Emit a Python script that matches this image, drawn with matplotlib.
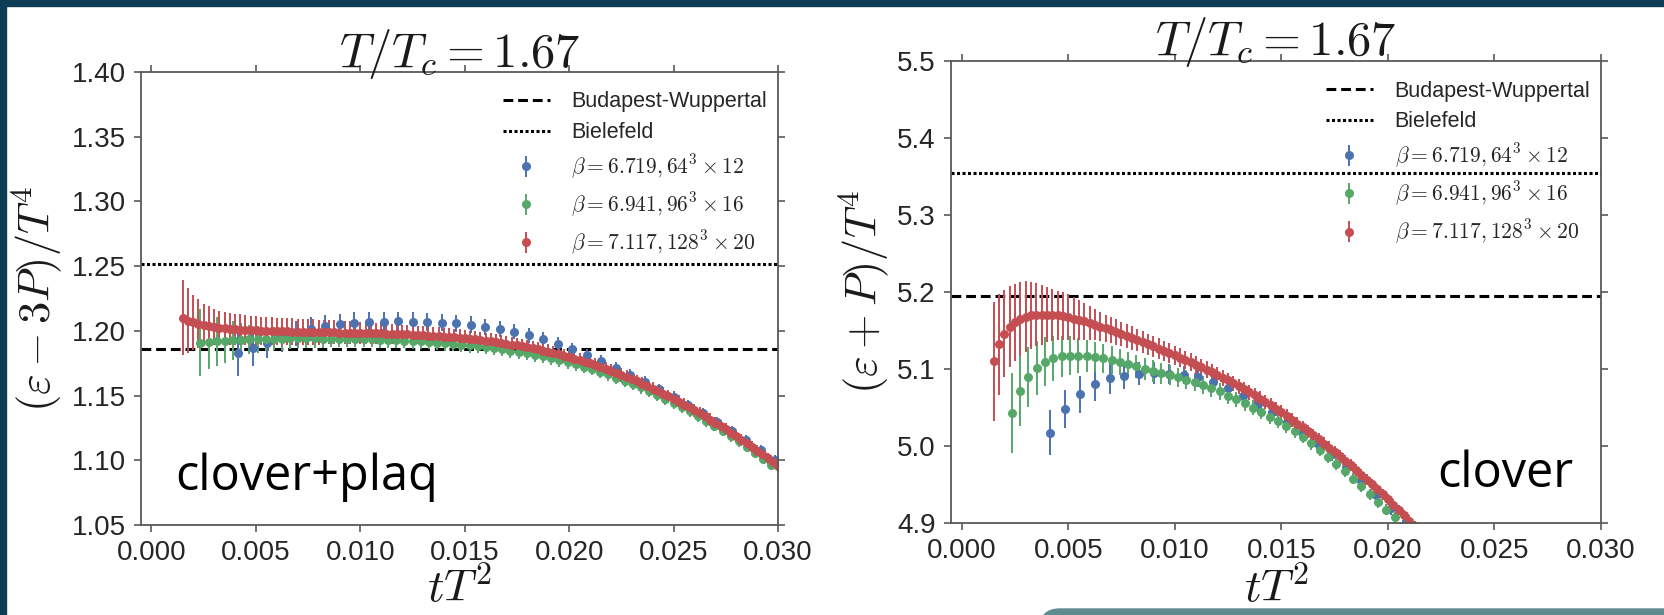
import numpy as np
import matplotlib
matplotlib.use("Agg")
import matplotlib.pyplot as plt
from matplotlib.patches import Rectangle, FancyBboxPatch

# flow time grid: tT^2 = (t/a^2) / Nt^2, t/a^2 = 0.6, 0.7, ...
FLOW_T0 = 0.6
FLOW_DT = 0.1

NT_BLUE, NT_GREEN, NT_RED = 12, 16, 20

LABELS = [
    r"$\beta=6.719, 64^3\times 12$",
    r"$\beta=6.941, 96^3\times 16$",
    r"$\beta=7.117, 128^3\times 20$",
]
COLORS = ["#4C72B0", "#55A868", "#C44E52"]

# ---- left panel: (eps - 3P)/T^4, clover+plaq ----
BW_LEFT = 1.186
BIELEFELD_LEFT = 1.252

blue_l = [1.183, 1.187, 1.191, 1.195, 1.198, 1.2015, 1.2035, 1.205, 1.2062, 1.2068,
          1.2072, 1.2073, 1.2072, 1.2069, 1.2064, 1.2057, 1.2047, 1.2033, 1.2015, 1.1993,
          1.1966, 1.1934, 1.1897, 1.1856, 1.1812, 1.1765, 1.1715, 1.1662, 1.1607, 1.1549,
          1.1489, 1.1427, 1.1362, 1.1295, 1.1225, 1.1153, 1.1078, 1.1000]
blue_l_err = [0.018, 0.014, 0.012, 0.011, 0.010, 0.009, 0.0085, 0.008, 0.008, 0.0078,
              0.0076, 0.0074, 0.0072, 0.007, 0.0068, 0.0066, 0.0064, 0.0062, 0.006, 0.0058,
              0.0056, 0.0054, 0.0052, 0.005, 0.005, 0.0048, 0.0047, 0.0046, 0.0045, 0.0044,
              0.0043, 0.0042, 0.0042, 0.0041, 0.0041, 0.004, 0.004, 0.004]

green_l = [1.1910, 1.1915, 1.1920, 1.1924, 1.1928, 1.1931, 1.1934, 1.1936, 1.1938, 1.1939,
           1.1940, 1.1941, 1.1941, 1.1941, 1.1941, 1.1940, 1.1940, 1.1939, 1.1938, 1.1937,
           1.1936, 1.1934, 1.1932, 1.1930, 1.1928, 1.1925, 1.1922, 1.1918, 1.1914, 1.1910,
           1.1905, 1.1899, 1.1893, 1.1887, 1.1881, 1.1873, 1.1865, 1.1856, 1.1847, 1.1837,
           1.1826, 1.1814, 1.1802, 1.1788, 1.1774, 1.1758, 1.1742, 1.1724, 1.1705, 1.1684,
           1.1663, 1.1639, 1.1615, 1.1589, 1.1563, 1.1535, 1.1507, 1.1476, 1.1445, 1.1413,
           1.1380, 1.1343, 1.1305, 1.1267, 1.1228, 1.1187, 1.1146, 1.1103, 1.1060, 1.1013,
           1.0966]
green_l_err = [0.026, 0.021, 0.019, 0.017, 0.015, 0.013, 0.0115, 0.0105, 0.0095, 0.009,
               0.0085, 0.008, 0.0077, 0.0074, 0.0072, 0.007, 0.0068, 0.0066, 0.0065, 0.0064,
               0.0063, 0.0062, 0.0061, 0.006, 0.006, 0.0059, 0.0059, 0.0058, 0.0058, 0.0057,
               0.0057, 0.0056, 0.0056, 0.0055, 0.0055, 0.0054, 0.0054, 0.0053, 0.0053, 0.0052,
               0.0052, 0.0051, 0.0051, 0.005, 0.005, 0.005, 0.0049, 0.0049, 0.0049, 0.0048,
               0.0048, 0.0048, 0.0047, 0.0047, 0.0047, 0.0046, 0.0046, 0.0046, 0.0045, 0.0045,
               0.0045, 0.0044, 0.0044, 0.0044, 0.0043, 0.0043, 0.0043, 0.0042, 0.0042, 0.0042,
               0.0041]

red_l = [1.2100, 1.2080, 1.2065, 1.2055, 1.2045, 1.2037, 1.2030, 1.2025, 1.2020, 1.2016,
         1.2013, 1.2010, 1.2007, 1.2005, 1.2003, 1.2001, 1.2000, 1.1999, 1.1998, 1.1997,
         1.1996, 1.1995, 1.1994, 1.1993, 1.1992, 1.1991, 1.1990, 1.1990, 1.1989, 1.1988,
         1.1987, 1.1987, 1.1986, 1.1985, 1.1984, 1.1983, 1.1982, 1.1981, 1.1980, 1.1978,
         1.1977, 1.1975, 1.1974, 1.1972, 1.1970, 1.1968, 1.1966, 1.1964, 1.1962, 1.1959,
         1.1956, 1.1953, 1.1950, 1.1946, 1.1942, 1.1938, 1.1934, 1.1929, 1.1924, 1.1919,
         1.1913, 1.1907, 1.1901, 1.1894, 1.1887, 1.1880, 1.1872, 1.1864, 1.1856, 1.1847,
         1.1838, 1.1828, 1.1818, 1.1808, 1.1797, 1.1785, 1.1773, 1.1761, 1.1748, 1.1734,
         1.1720, 1.1706, 1.1691, 1.1675, 1.1659, 1.1643, 1.1626, 1.1609, 1.1591, 1.1573,
         1.1554, 1.1535, 1.1515, 1.1495, 1.1474, 1.1453, 1.1431, 1.1409, 1.1386, 1.1363,
         1.1339, 1.1315, 1.1290, 1.1265, 1.1239, 1.1213, 1.1186, 1.1159, 1.1131, 1.1103,
         1.1074, 1.1045, 1.1015, 1.0985, 1.0954]
red_l_err = [0.029, 0.025, 0.0215, 0.019, 0.0165, 0.0155, 0.014, 0.0132, 0.0127, 0.0122,
             0.0119, 0.0117, 0.0115, 0.0113, 0.0111, 0.0109, 0.0107, 0.0105, 0.0104, 0.0103,
             0.0102, 0.0101, 0.0100, 0.0099, 0.0098, 0.0097, 0.0096, 0.0095, 0.0094, 0.0093,
             0.0092, 0.0091, 0.0090, 0.0088, 0.0087, 0.0085, 0.0084, 0.0082, 0.0081, 0.0079,
             0.0078, 0.0077, 0.0075, 0.0074, 0.0073, 0.0072, 0.0071, 0.0070, 0.0069, 0.0068,
             0.0067, 0.0066, 0.0066, 0.0065, 0.0065, 0.0064, 0.0064, 0.0063, 0.0063, 0.0062,
             0.0062, 0.0061, 0.0061, 0.0060, 0.0060, 0.0059, 0.0059, 0.0058, 0.0058, 0.0057,
             0.0057, 0.0056, 0.0056, 0.0055, 0.0055, 0.0055, 0.0054, 0.0054, 0.0054, 0.0053,
             0.0053, 0.0053, 0.0052, 0.0052, 0.0052, 0.0051, 0.0051, 0.0051, 0.0050, 0.0050,
             0.0050, 0.0050, 0.0049, 0.0049, 0.0049, 0.0049, 0.0048, 0.0048, 0.0048, 0.0048,
             0.0047, 0.0047, 0.0047, 0.0047, 0.0046, 0.0046, 0.0046, 0.0046, 0.0045, 0.0045,
             0.0045, 0.0045, 0.0044, 0.0044, 0.0044]

# ---- right panel: (eps + P)/T^4, clover ----
BW_RIGHT = 5.195
BIELEFELD_RIGHT = 5.355

blue_r = [5.0173, 5.0480, 5.0675, 5.0800, 5.0880, 5.0915, 5.0940, 5.0948, 5.0940, 5.0922,
          5.0890, 5.0830, 5.0750, 5.0654, 5.0548, 5.0439, 5.0317, 5.0187, 5.0040, 4.9890,
          4.9725, 4.9550, 4.9370, 4.9190, 4.9007, 4.8820]
blue_r_err = [0.029, 0.025, 0.024, 0.022, 0.020, 0.017, 0.015, 0.014, 0.013, 0.012,
              0.012, 0.011, 0.011, 0.0105, 0.010, 0.0098, 0.0096, 0.0094, 0.0092, 0.009,
              0.0088, 0.0086, 0.0084, 0.0082, 0.008, 0.0078]

green_r = [5.0424, 5.0714, 5.0890, 5.1010, 5.1095, 5.1140, 5.1165, 5.1175, 5.1175, 5.1168,
           5.1155, 5.1138, 5.1117, 5.1093, 5.1066, 5.1036, 5.1004, 5.0972, 5.0945, 5.0917,
           5.0890, 5.0862, 5.0828, 5.0790, 5.0750, 5.0708, 5.0655, 5.0605, 5.0553, 5.0499,
           5.0443, 5.0383, 5.0321, 5.0257, 5.0190, 5.0120, 5.0037, 4.9951, 4.9862, 4.9770,
           4.9675, 4.9577, 4.9476, 4.9372, 4.9275, 4.9175, 4.9072, 4.8966, 4.8857]
green_r_err = [0.052, 0.045, 0.039, 0.035, 0.032, 0.029, 0.027, 0.025, 0.023, 0.021,
               0.020, 0.019, 0.018, 0.017, 0.016, 0.015, 0.0145, 0.014, 0.0135, 0.013,
               0.0125, 0.012, 0.0117, 0.0114, 0.0111, 0.0108, 0.0105, 0.0102, 0.010, 0.0098,
               0.0096, 0.0094, 0.0092, 0.009, 0.0088, 0.0086, 0.0084, 0.0082, 0.008, 0.0079,
               0.0078, 0.0077, 0.0076, 0.0075, 0.0074, 0.0073, 0.0072, 0.0071, 0.007]

red_r = [5.110, 5.132, 5.146, 5.155, 5.161, 5.165, 5.168, 5.1695, 5.1703, 5.1707,
         5.1707, 5.1703, 5.1696, 5.1685, 5.1671, 5.1655, 5.1637, 5.1617, 5.1596, 5.1574,
         5.1551, 5.1527, 5.1502, 5.1478, 5.1453, 5.1428, 5.1402, 5.1376, 5.1349, 5.1322,
         5.1294, 5.1266, 5.1237, 5.1208, 5.1178, 5.1148, 5.1118, 5.1087, 5.1055, 5.1023,
         5.0990, 5.0956, 5.0922, 5.0887, 5.0851, 5.0814, 5.0776, 5.0737, 5.0697, 5.0656,
         5.0614, 5.0571, 5.0527, 5.0482, 5.0436, 5.0389, 5.0341, 5.0292, 5.0242, 5.0191,
         5.0139, 5.0086, 5.0032, 4.9977, 4.9921, 4.9864, 4.9806, 4.9747, 4.9687, 4.9626,
         4.9564, 4.9501, 4.9437, 4.9372, 4.9306, 4.9239, 4.9171, 4.9102, 4.9032, 4.8961]
red_r_err = [0.077, 0.066, 0.057, 0.053, 0.050, 0.048, 0.046, 0.044, 0.041, 0.039,
             0.036, 0.034, 0.032, 0.031, 0.030, 0.028, 0.026, 0.024, 0.022, 0.020,
             0.019, 0.018, 0.017, 0.0165, 0.016, 0.0155, 0.015, 0.0145, 0.014, 0.0137,
             0.0134, 0.0131, 0.0128, 0.0125, 0.0122, 0.012, 0.0118, 0.0116, 0.0114, 0.0112,
             0.011, 0.0108, 0.0106, 0.0104, 0.0102, 0.010, 0.0099, 0.0098, 0.0097, 0.0096,
             0.0095, 0.0094, 0.0093, 0.0092, 0.0091, 0.009, 0.0089, 0.0088, 0.0087, 0.0086,
             0.0085, 0.0084, 0.0083, 0.0082, 0.0081, 0.008, 0.0079, 0.0078, 0.0077, 0.0076,
             0.0075, 0.0074, 0.0073, 0.0072, 0.0071, 0.007, 0.0069, 0.0068, 0.0067, 0.0066]


def flow_x(nt, n):
    """tT^2 values of the flow-time grid for a lattice with temporal extent nt."""
    return (FLOW_T0 + FLOW_DT * np.arange(n)) / nt**2


plt.rcParams.update({
    "font.family": ["Liberation Sans", "DejaVu Sans"],
    "mathtext.fontset": "cm",
    "text.color": "0.15",
    "axes.labelcolor": "0.1",
    "xtick.color": "0.15",
    "ytick.color": "0.15",
})

fig = plt.figure(figsize=(16.65, 6.15), dpi=100)
ax_l = fig.add_axes([141 / 1665, 1 - 525 / 615, 637 / 1665, 453 / 615])
ax_r = fig.add_axes([951 / 1665, 1 - 523 / 615, 650 / 1665, 462 / 615])


def draw_panel(ax, series, bw, biel, ylim, yticks, yfmt, ylabel, tag, tag_x,
               ylab_x, title_y, xlab_y):
    h_bw = ax.axhline(bw, color="black", lw=2.2, ls=(0, (3.2, 1.6)),
                      label="Budapest-Wuppertal")
    h_bi = ax.axhline(biel, color="black", lw=2.2, ls=(0, (1, 0.8)),
                      label="Bielefeld")
    handles = [h_bw, h_bi]
    for (nt, y, e), c, lab in zip(series, COLORS, LABELS):
        h = ax.errorbar(flow_x(nt, len(y)), y, yerr=e, fmt="o", color=c, ms=6.5,
                        mew=0, elinewidth=1.4, capsize=3.5, capthick=1.4, label=lab)
        handles.append(h)

    ax.set_xlim(-0.0005, 0.030)
    ax.set_ylim(*ylim)
    ax.set_xticks(np.arange(0, 0.0301, 0.005))
    ax.set_xticklabels([f"{v:.3f}" for v in np.arange(0, 0.0301, 0.005)])
    ax.set_yticks(yticks)
    ax.set_yticklabels([yfmt.format(v) for v in yticks])
    ax.tick_params(direction="out", length=5, width=1.2, labelsize=20, pad=6,
                   top=True, right=True, color="0.35")
    for sp in ax.spines.values():
        sp.set_color("0.35")
        sp.set_linewidth(1.3)

    ax.set_title(r"$T/T_c = 1.67$", fontsize=35, y=title_y, va="baseline",
                 pad=0, color="0.1")
    ax.set_xlabel(r"$tT^2$", fontsize=33, va="baseline")
    ax.xaxis.set_label_coords(0.5, xlab_y)
    ax.set_ylabel(ylabel, fontsize=32)
    ax.yaxis.set_label_coords(ylab_x, 0.5)

    leg = ax.legend(handles=handles, loc="upper right", bbox_to_anchor=(1.01, 0.995),
                    frameon=False, fontsize=15.5, handlelength=2.2, handletextpad=1.0,
                    labelspacing=0.45, borderaxespad=0.4)
    for t in leg.get_texts()[2:]:
        t.set_fontsize(15.5)
    ax.text(tag_x, 0.077, tag, transform=ax.transAxes, fontsize=35,
            family=["Open Sans", "DejaVu Sans"], color="black", va="baseline")


draw_panel(ax_l,
           [(NT_BLUE, blue_l, blue_l_err), (NT_GREEN, green_l, green_l_err),
            (NT_RED, red_l, red_l_err)],
           BW_LEFT, BIELEFELD_LEFT, (1.05, 1.40),
           np.round(np.arange(1.05, 1.401, 0.05), 2), "{:.2f}",
           r"$(\varepsilon-3P)/T^4$", "clover+plaq", 0.053,
           -0.121, 1.011, -0.170)
draw_panel(ax_r,
           [(NT_BLUE, blue_r, blue_r_err), (NT_GREEN, green_r, green_r_err),
            (NT_RED, red_r, red_r_err)],
           BW_RIGHT, BIELEFELD_RIGHT, (4.9, 5.5),
           np.round(np.arange(4.9, 5.501, 0.1), 1), "{:.1f}",
           r"$(\varepsilon+P)/T^4$", "clover", 0.748,
           -0.092, 1.013, -0.171)

# slide frame
frame = "#0e3c54"
fig.patches.append(Rectangle((0, 0), 6 / 1665, 1, transform=fig.transFigure,
                             color=frame, zorder=10))
fig.patches.append(Rectangle((0, 1 - 6 / 615), 1, 6 / 615, transform=fig.transFigure,
                             color=frame, zorder=10))
fig.patches.append(FancyBboxPatch((1040 / 1665, -20 / 615), 700 / 1665, 26 / 615,
                                  boxstyle="round,pad=0,rounding_size=0.012",
                                  transform=fig.transFigure, color="#5f8a90",
                                  zorder=10, mutation_aspect=2.7))

fig.savefig("out.png", dpi=100)
